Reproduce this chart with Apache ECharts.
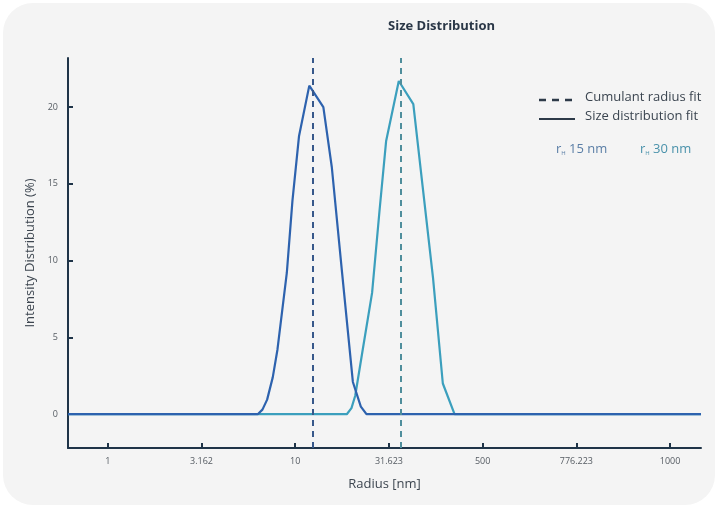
<!DOCTYPE html>
<html lang="en">
<head>
    <meta charset="UTF-8">
    <title>Size Distribution</title>
    <style>
        html, body { margin: 0; padding: 0; background: #ffffff; }
        .card {
            position: absolute; left: 3px; top: 3px; width: 712px; height: 502px;
            background: #f4f4f4; border-radius: 30px;
        }
        #main { position: absolute; left: 0; top: 0; width: 718px; height: 508px; }
    </style>
</head>
<body>
<div class="card"></div>
<div id="main"></div>
<script src="https://cdn.jsdelivr.net/npm/echarts@6/dist/echarts.min.js"></script>
<script>
    // x positions are tick index units (tick k sits at k), labels as printed
    var tickPos = [0, 1, 2, 3, 4, 5, 6];
    var tickLabels = ['1', '3.162', '10', '31.623', '500', '776.223', '1000'];
    var yTicks = [0, 5, 10, 15, 20];

    // size distribution fit, rH 15 nm
    var fit15X = [-0.425, 1.60, 1.65, 1.70, 1.76, 1.81, 1.91, 1.97, 2.04, 2.15, 2.30, 2.39, 2.50, 2.615, 2.70, 2.76, 6.33];
    var fit15Y = [0, 0, 0.3, 0.95, 2.4, 4.2, 9.2, 13.9, 18.1, 21.4, 20.0, 16.1, 9.2, 2.1, 0.5, 0, 0];

    // size distribution fit, rH 30 nm
    var fit30X = [-0.425, 2.55, 2.60, 2.64, 2.72, 2.82, 2.90, 2.97, 3.105, 3.26, 3.36, 3.47, 3.575, 3.70, 6.33];
    var fit30Y = [0, 0, 0.4, 1.2, 4.2, 7.9, 13.3, 17.8, 21.7, 20.2, 14.8, 8.9, 2.0, 0, 0];

    // cumulant radius fit positions
    var cumulant15 = 2.185;
    var cumulant30 = 3.134;

    function pairs(xs, ys) {
        return xs.map(function (x, i) { return [x, ys[i]]; });
    }

    var axisColor = '#1f3448';
    var textFont = '"Open Sans", "Noto Sans", sans-serif';

    var myChart = echarts.init(document.getElementById('main'));
    var option = {
        backgroundColor: 'transparent',
        animation: false,
        grid: { left: 68, right: 17, top: 58, bottom: 60 },
        xAxis: {
            type: 'value',
            min: -0.425,
            max: 6.33,
            name: 'Radius [nm]',
            nameLocation: 'middle',
            nameGap: 30,
            nameTextStyle: { color: '#3d4650', fontSize: 13, fontFamily: textFont },
            splitLine: { show: false },
            axisLine: { onZero: false, lineStyle: { color: axisColor, width: 2 } },
            axisTick: { inside: true, length: 5, customValues: tickPos, lineStyle: { color: axisColor, width: 2 } },
            axisLabel: {
                customValues: tickPos,
                margin: 9,
                color: '#555b62',
                fontSize: 9,
                fontFamily: textFont,
                formatter: function (v) { return tickLabels[Math.round(v)]; }
            }
        },
        yAxis: {
            type: 'value',
            min: -2.2,
            max: 23.2,
            name: 'Intensity Distribution (%)',
            nameLocation: 'middle',
            nameGap: 30,
            nameTextStyle: { color: '#3d4650', fontSize: 13, fontFamily: textFont },
            splitLine: { show: false },
            axisLine: { show: true, onZero: false, lineStyle: { color: axisColor, width: 2 } },
            axisTick: { show: true, inside: true, length: 5, customValues: yTicks, lineStyle: { color: axisColor, width: 2 } },
            axisLabel: { customValues: yTicks, margin: 10, color: '#555b62', fontSize: 9, fontFamily: textFont }
        },
        series: [
            {
                name: 'rH 30 nm',
                type: 'line',
                data: pairs(fit30X, fit30Y),
                showSymbol: false,
                lineStyle: { color: '#3b9fbd', width: 2.2 },
                markLine: {
                    silent: true,
                    symbol: 'none',
                    label: { show: false },
                    lineStyle: { color: '#4f8e9c', width: 2, type: [6, 5] },
                    data: [{ xAxis: cumulant30 }]
                }
            },
            {
                name: 'rH 15 nm',
                type: 'line',
                data: pairs(fit15X, fit15Y),
                showSymbol: false,
                lineStyle: { color: '#2d62ae', width: 2.2 },
                markLine: {
                    silent: true,
                    symbol: 'none',
                    label: { show: false },
                    lineStyle: { color: '#37588a', width: 2, type: [6, 5] },
                    data: [{ xAxis: cumulant15 }]
                }
            }
        ],
        graphic: [
            {
                type: 'text', left: 388, top: 20,
                style: { text: 'Size Distribution', x: 0, align: 'center', fill: '#2a3747', font: 'bold 13px ' + textFont }
            },
            {
                type: 'line', shape: { x1: 539, y1: 100, x2: 573, y2: 100 },
                style: { stroke: '#2d3a48', lineWidth: 2.5, lineDash: [7, 6] }
            },
            {
                type: 'line', shape: { x1: 539, y1: 119, x2: 575, y2: 119 },
                style: { stroke: '#2d3a48', lineWidth: 2 }
            },
            {
                type: 'text', left: 585, top: 91,
                style: { text: 'Cumulant radius fit', fill: '#3b4550', font: '13px ' + textFont }
            },
            {
                type: 'text', left: 585, top: 110,
                style: { text: 'Size distribution fit', fill: '#3b4550', font: '13px ' + textFont }
            },
            {
                type: 'text', left: 556, top: 143,
                style: {
                    text: '{r|r}{s|H} {v|15 nm}',
                    rich: {
                        r: { fill: '#5a7ea6', font: '13px ' + textFont },
                        s: { fill: '#5a7ea6', font: '6px ' + textFont, padding: [8, 0, 0, 0] },
                        v: { fill: '#5a7ea6', font: '13px ' + textFont }
                    }
                }
            },
            {
                type: 'text', left: 640, top: 143,
                style: {
                    text: '{r|r}{s|H} {v|30 nm}',
                    rich: {
                        r: { fill: '#4a92ab', font: '13px ' + textFont },
                        s: { fill: '#4a92ab', font: '6px ' + textFont, padding: [8, 0, 0, 0] },
                        v: { fill: '#4a92ab', font: '13px ' + textFont }
                    }
                }
            }
        ]
    };
    myChart.setOption(option);
</script>
</body>
</html>
